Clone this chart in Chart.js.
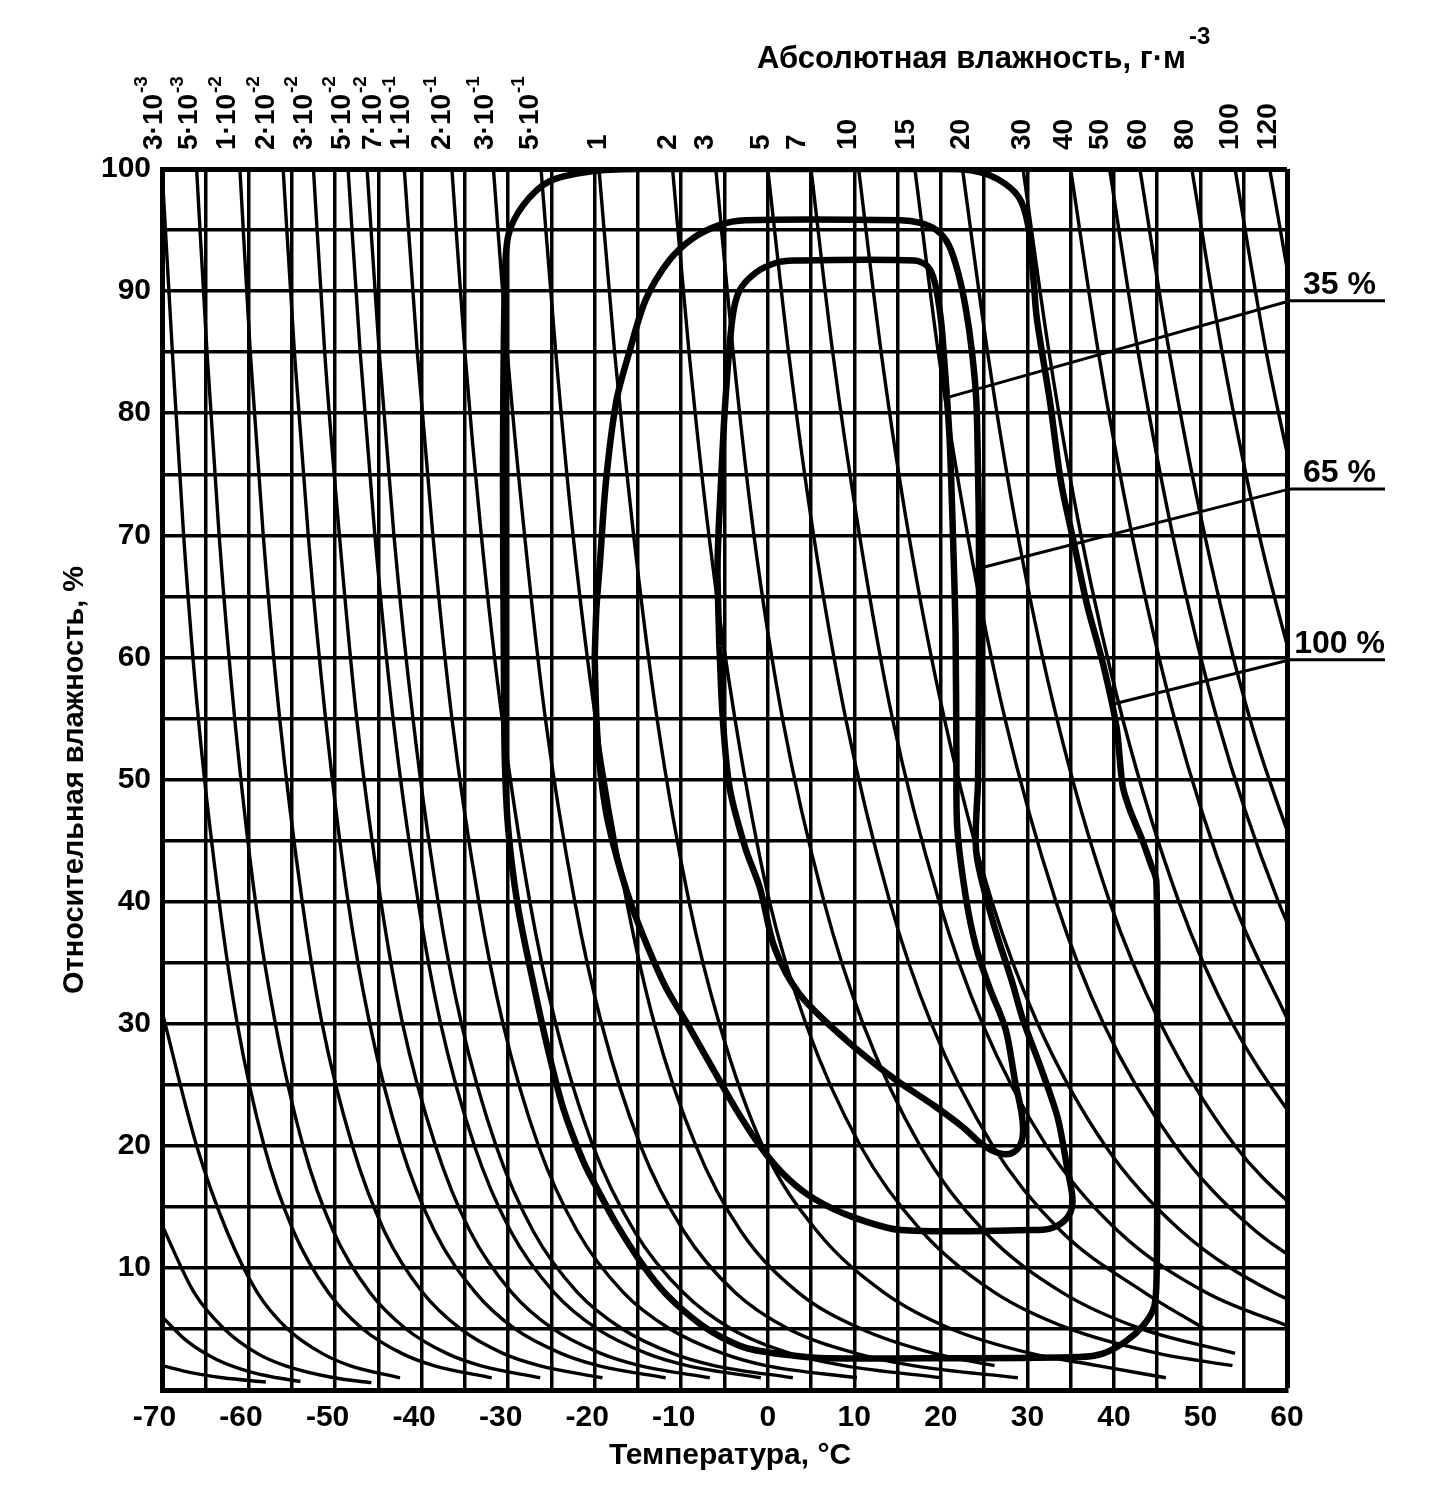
<!DOCTYPE html>
<html><head><meta charset="utf-8">
<script src="https://cdn.jsdelivr.net/npm/chart.js@4"></script>
<style>html,body{margin:0;padding:0;background:#fff}#wrap{width:1433px;height:1489px;position:relative}</style>
</head><body><div id="wrap"><canvas id="c"></canvas></div>
<script>
// ---------- data (temperature °C at given relative humidity %) ----------
const rhLevels = [100, 85, 70, 55, 40, 30, 20, 13, 8, 5, 3, 2, 1];

const t_3e3 = [-70, -68.8, -67.5, -65.8, -63.4, -61.3, -58.2, -54.8, -50.8, -46.8, -42.3, -38.6, -31.9];
const t_5e3 = [-66, -64.8, -63.4, -61.6, -59.2, -56.9, -53.7, -50.2, -46.0, -41.8, -37.1, -33.2, -26.3];
const t_1e2 = [-61, -59.8, -58.3, -56.4, -53.8, -51.5, -48.0, -44.3, -39.9, -35.5, -30.6, -26.4, -19.1];
const t_2e2 = [-56, -54.7, -53.1, -51.1, -48.5, -46.0, -42.4, -38.5, -33.8, -29.2, -23.9, -19.6, -11.8];
const t_3e2 = [-52.5, -51.2, -49.5, -47.5, -44.7, -42.2, -38.4, -34.4, -29.6, -24.8, -19.3, -14.8, -6.7];
const t_5e2 = [-48.5, -47.1, -45.4, -43.3, -40.4, -37.8, -33.9, -29.7, -24.7, -19.7, -14.0, -9.3, -0.8];
const t_7e2 = [-46.3, -44.9, -43.2, -41.0, -38.1, -35.4, -31.4, -27.1, -22.0, -16.8, -11.0, -6.2, 2.9];
const t_1e1 = [-42, -40.5, -38.7, -36.5, -33.4, -30.6, -26.5, -22.0, -16.7, -11.3, -5.2, -0.2, 10.3];
const t_2e1 = [-36.5, -35.0, -33.1, -30.7, -27.5, -24.5, -20.2, -15.4, -9.8, -4.2, 2.6, 8.8, 20.1];
const t_3e1 = [-31.7, -30.1, -28.1, -25.7, -22.3, -19.2, -14.7, -9.7, -3.8, 2.4, 10.2, 16.8, 28.9];
const t_5e1 = [-26.2, -24.5, -22.5, -19.9, -16.3, -13.1, -8.3, -3.1, 3.5, 10.8, 19.2, 26.2];
const t_1   = [-19.5, -17.7, -15.5, -12.8, -9.1, -5.6, -0.6, 5.7, 13.4, 21.2, 30.4, 38.1, 46];
const t_2   = [-11, -9.1, -6.8, -3.8, 0.2, 4.4, 10.7, 17.8, 26.2, 34.9, 45.1, 53.7];
const t_3   = [-6, -4.0, -1.6, 1.7, 6.5, 11.0, 17.6, 25.0, 34.0, 43.2, 54.0];
const t_5   = [0, 2.4, 5.3, 9.0, 14.1, 18.9, 26.0, 33.9, 43.5, 50.5];
const t_7   = [5, 7.5, 10.6, 14.4, 19.8, 24.8, 32.2, 40.5, 50.6, 61.0];
const t_10  = [10.5, 13.1, 16.3, 20.4, 25.9, 31.2, 39.0, 47.8, 58.4, 69.4];
const t_15  = [17, 19.7, 23.1, 27.4, 33.3, 38.8, 47.1, 56.4, 67.7];
const t_20  = [22.5, 25.4, 28.9, 33.4, 39.5, 45.4, 54.0, 63.8];
const t_30  = [29.5, 32.5, 36.2, 41.0, 47.5, 53.7, 62.9];
const t_40  = [35, 38.2, 42.1, 47.0, 53.8, 60.3];
const t_50  = [39.5, 42.8, 46.8, 51.9, 59.0, 65.7];
const t_60  = [43, 46.4, 50.5, 55.7, 63.0];
const t_80  = [49, 52.5, 56.8, 62.3];
const t_100 = [54, 57.6, 62.1];
const t_120 = [58, 61.7];

// curves entering from the left edge (below the first labelled value)
const edgeRH_a = [31, 20, 13, 8, 5, 3, 2, 1];
const edgeT_a  = [-70, -66.0, -62.5, -59.0, -55.5, -51.5, -48.3, -42.5];
const edgeRH_b = [13.5, 8, 5, 3, 2, 1, 0.6];
const edgeT_b  = [-70, -66.3, -62.8, -59.0, -55.8, -50.1, -45.8];
const edgeRH_c = [6, 4, 2.5, 1.5, 1, 0.7];
const edgeT_c  = [-70, -67.1, -63.7, -59.9, -56.7, -54.0];
const edgeRH_d = [2, 1.4, 1, 0.65];
const edgeT_d  = [-70, -66.5, -63, -58];

// top (absolute humidity) tick labels
const ahMantissa = ['3·10','5·10','1·10','2·10','3·10','5·10','7·10','1·10','2·10','3·10','5·10',
  '1','2','3','5','7','10','15','20','30','40','50','60','80','100','120'];
const ahExponent = ['-3','-3','-2','-2','-2','-2','-2','-1','-1','-1','-1',
  '','','','','','','','','','','','','','',''];
const ahLabelTemp = [-70.9, -66.8, -62.4, -58.0, -53.6, -49.2, -45.6, -42.3, -37.6, -32.6, -27.4,
  -19.6, -11.5, -7.2, -0.7, 3.4, 9.3, 16.0, 22.4, 29.4, 34.3, 38.4, 42.8, 48.2, 53.4, 57.8];

// closed contours
const loop100T  = [-30.5, -30.6, -30.4, -30.0, -28.3, -25.2, -20.5, -15, 20, 23.5, 26.5, 29.0, 30.1, 30.7, 31.1, 32.6, 33.9, 35.4, 36.9, 38.8, 40.3, 41.0, 41.8, 43.3, 44.3, 44.9, 45.0, 45.0, 44.9, 44.6, 43.4, 41.4, 38.8, 36, 20, 6.9, 3.1, -2.3, -5.3, -7.6, -9.9, -12.2, -14.8, -17.5, -19.5, -21.3, -23.6, -25.3, -27.0, -28.9, -30.0, -30.4, -30.5];
const loop100RH = [60, 75, 90, 94.5, 97.0, 99.0, 99.8, 100, 100, 99.9, 99.2, 97.7, 95.3, 91, 87.7, 81, 74.3, 69.3, 64.3, 59.3, 54.3, 49.5, 47.6, 45, 43.0, 41.7, 30, 15, 8.5, 6.7, 5.3, 4.0, 3.0, 2.7, 2.6, 2.6, 2.8, 3.4, 4.3, 5.3, 6.6, 8.2, 10.6, 13.6, 16.2, 18.7, 23.0, 27.6, 33.0, 39.7, 46, 52, 60];
const loop65T  = [-20.0, -19.8, -19.4, -18.7, -17.5, -16.0, -14.1, -11.4, -8.7, -5.6, -2.6, 15.4, 17.5, 19.5, 20.9, 22.0, 22.9, 23.6, 24.1, 24.3, 24.4, 24.4, 24.3, 24.1, 26.0, 28.2, 29.5, 31.6, 33.5, 34.6, 35.2, 35.0, 34.0, 32.5, 30.5, 15.4, 9.7, 5.5, 2.5, -0.5, -3.5, -6.5, -9.3, -11.8, -14.0, -15.9, -17.4, -18.6, -19.4, -19.8, -20.0];
const loop65RH = [60, 64, 67.7, 74.4, 81, 85, 89.3, 92.5, 94.3, 95.4, 95.8, 95.8, 95.6, 95.0, 93.8, 91.5, 88.5, 85, 81, 75, 70, 60, 50, 44, 38.4, 33.5, 30.3, 26.3, 22.3, 18.2, 15.8, 14.6, 13.7, 13.2, 13.1, 13.1, 14.2, 15.6, 17.2, 19.6, 22.8, 26.5, 30, 33, 36.5, 40, 43.5, 47, 51, 55, 60];
const loop35T  = [-5.6, -5.8, -5.4, -4.9, -4.1, -3.3, -1.4, 0.9, 3, 17.0, 18.5, 19.3, 20.0, 20.4, 21.0, 21.4, 21.7, 21.8, 21.9, 22.9, 24.1, 25.6, 27.5, 28.6, 29.3, 29.5, 29.2, 28.2, 26.7, 24.8, 22.6, 19.2, 14.6, 9.0, 3.7, 0.8, -0.9, -2.6, -4.4, -5.2, -5.6];
const loop35RH = [61, 67.7, 74.4, 81, 87.7, 90, 91.5, 92.3, 92.5, 92.5, 92.0, 90.7, 87.7, 84.3, 78, 70, 62, 52, 46, 40.3, 36.2, 33.0, 29.5, 25.2, 22.8, 21.2, 20.1, 19.4, 19.4, 20.1, 21.5, 23.3, 25.5, 28.7, 32.4, 36.2, 41.1, 44.4, 49.3, 55, 61];

// leader labels
const leaderText   = ['35 %', '65 %', '100 %'];
const leaderFromT  = [20.8, 23.9, 39.5];
const leaderFromRH = [81.3, 67.2, 56.1];
const leaderToRH   = [89.2, 73.8, 59.8];

const xTitle = 'Температура, °С';
const yTitle = 'Относительная влажность, %';
const topTitle = 'Абсолютная влажность, г·м';
const topTitleExp = '-3';

// ---------- build datasets ----------
const FONT = '"Liberation Sans", Arial, Helvetica, sans-serif';
const ahCurves = [t_3e3, t_5e3, t_1e2, t_2e2, t_3e2, t_5e2, t_7e2, t_1e1, t_2e1, t_3e1, t_5e1,
  t_1, t_2, t_3, t_5, t_7, t_10, t_15, t_20, t_30, t_40, t_50, t_60, t_80, t_100, t_120];
const edgeCurves = [[edgeT_a, edgeRH_a], [edgeT_b, edgeRH_b], [edgeT_c, edgeRH_c], [edgeT_d, edgeRH_d]];

const datasets = [];
const thin = (pts) => ({ data: pts, showLine: true, borderColor: '#000', borderWidth: 3.4,
  pointRadius: 0, fill: false, cubicInterpolationMode: 'monotone' });
ahCurves.forEach(ts => datasets.push(thin(ts.map((t, i) => ({ x: t, y: rhLevels[i] })))));
edgeCurves.forEach(([ts, rs]) => datasets.push(thin(ts.map((t, i) => ({ x: t, y: rs[i] })))));
[[loop100T, loop100RH], [loop65T, loop65RH], [loop35T, loop35RH]].forEach(([ts, rs]) => {
  datasets.push({ data: ts.map((t, i) => ({ x: t, y: rs[i] })), showLine: true, borderColor: '#000',
    borderWidth: 6.5, pointRadius: 0, fill: false, tension: 0.3, borderJoinStyle: 'round' });
});

const decor = {
  id: 'decor',
  afterDraw(chart) {
    const { ctx, chartArea: a, scales } = chart;
    const xs = scales.x, ys = scales.y;
    ctx.save();
    ctx.fillStyle = '#000'; ctx.strokeStyle = '#000';
    // absolute humidity labels along the top
    ahLabelTemp.forEach((t, i) => {
      ctx.save();
      ctx.translate(xs.getPixelForValue(t), a.top - 19);
      ctx.rotate(-Math.PI / 2);
      ctx.textAlign = 'left'; ctx.textBaseline = 'middle';
      ctx.font = 'bold 28px ' + FONT;
      ctx.fillText(ahMantissa[i], 0, 0);
      if (ahExponent[i]) {
        const w = ctx.measureText(ahMantissa[i]).width;
        ctx.font = 'bold 19px ' + FONT;
        ctx.fillText(ahExponent[i], w + 1, -12);
      }
      ctx.restore();
    });
    // top title
    ctx.font = 'bold 31px ' + FONT;
    ctx.textAlign = 'right'; ctx.textBaseline = 'alphabetic';
    ctx.fillText(topTitle, 1186, 68);
    ctx.font = 'bold 24px ' + FONT; ctx.textAlign = 'left';
    ctx.fillText(topTitleExp, 1189, 44);
    // axis titles
    ctx.textAlign = 'center'; ctx.textBaseline = 'middle';
    ctx.font = 'bold 30px ' + FONT;
    ctx.fillText(xTitle, 730, 1456);
    ctx.font = 'bold 29px ' + FONT;
    ctx.save(); ctx.translate(75, 780); ctx.rotate(-Math.PI / 2);
    ctx.fillText(yTitle, 0, 0); ctx.restore();
    // leader lines with labels
    ctx.lineWidth = 3;
    leaderText.forEach((s, i) => {
      const x0 = xs.getPixelForValue(leaderFromT[i]), y0 = ys.getPixelForValue(leaderFromRH[i]);
      const y1 = ys.getPixelForValue(leaderToRH[i]);
      const x1 = a.right + 3, x2 = a.right + 98;
      ctx.beginPath(); ctx.moveTo(x0, y0); ctx.lineTo(x1, y1); ctx.lineTo(x2, y1); ctx.stroke();
      ctx.font = 'bold 32px ' + FONT; ctx.textAlign = 'center'; ctx.textBaseline = 'alphabetic';
      ctx.fillText(s, (x1 + x2) / 2 + 2, y1 - 7);
    });
    ctx.restore();
  }
};

const tickFont = { family: FONT, size: 30, weight: 'bold' };
// negative labels: digits centred on the tick, minus sign hanging to the left
const xTickLabel = (v) => (v % 10 !== 0 ? '' : (v < 0 ? String(v) + '\u2002' : String(v)));
new Chart(document.getElementById('c'), {
  type: 'scatter',
  data: { datasets },
  options: {
    responsive: true, maintainAspectRatio: false, animation: false,
    layout: { padding: { top: 169, right: 146, bottom: 0, left: 0 } },
    plugins: { legend: { display: false }, tooltip: { enabled: false } },
    scales: {
      x: {
        type: 'linear', min: -70, max: 60,
        afterFit: (s) => { s.height = 99; },
        ticks: { stepSize: 5, autoSkip: false, maxRotation: 0, minRotation: 0, padding: 10,
          color: '#000', font: tickFont, callback: xTickLabel },
        grid: { color: '#000', lineWidth: (c) => (c.tick && c.tick.value === 60 ? 5 : 3.5), drawTicks: false },
        border: { display: true, color: '#000', width: 5 }
      },
      y: {
        type: 'linear', min: 0, max: 100,
        afterFit: (s) => { s.width = 162; },
        ticks: { stepSize: 5, autoSkip: false, padding: 11, color: '#000', font: tickFont,
          callback: (v) => (v % 10 === 0 && v !== 0 ? String(v) : '') },
        grid: { color: '#000', lineWidth: (c) => (c.tick && c.tick.value === 100 ? 5 : 3.5), drawTicks: false },
        border: { display: true, color: '#000', width: 5 }
      }
    }
  },
  plugins: [decor]
});
</script>
</body></html>
